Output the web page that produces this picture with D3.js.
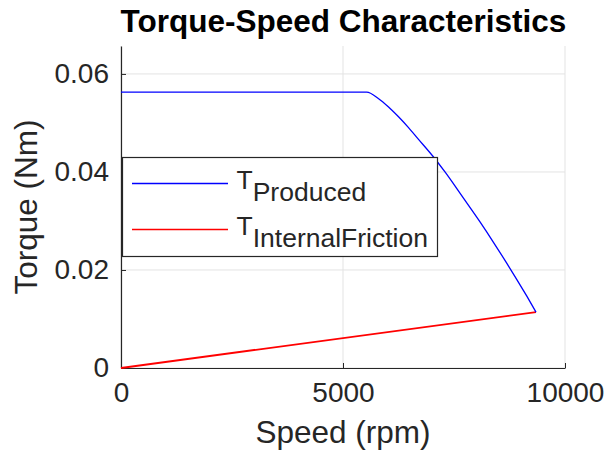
<!DOCTYPE html>
<html><head><meta charset="utf-8">
<script src="https://cdn.jsdelivr.net/npm/d3@7/dist/d3.min.js"></script>
<style>body{margin:0;background:#fff;} svg{display:block;}</style>
</head><body>
<svg id="c" width="608" height="455"></svg>
<script>
const speedProduced = [0, 1000, 2000, 3000, 4000, 5000, 5534, 5795, 6020, 6245, 6471, 6696, 7034, 7297, 7709, 8086, 8385, 8687, 8912, 9137, 9347];
const torqueProduced = [0.0563, 0.0563, 0.0563, 0.0563, 0.0563, 0.0563, 0.0563, 0.0550, 0.0533, 0.0513, 0.0491, 0.0467, 0.0431, 0.0400, 0.0347, 0.0298, 0.0257, 0.0214, 0.0181, 0.0147, 0.0114];
const speedFriction = [0, 9347];
const torqueFriction = [0, 0.0114];
const xTicks = [0, 5000, 10000];
const yTicks = [0, 0.02, 0.04, 0.06];
const legendLabels = [["T", "Produced"], ["T", "InternalFriction"]];
const seriesColors = ["#0000ff", "#ff0000"];

const svg = d3.select("#c");
const L = 121, R = 565, T = 46, B = 368;
const x = d3.scaleLinear().domain([0, 10000]).range([L, R]);
const y = d3.scaleLinear().domain([0, 0.0657]).range([B, T]);
const ink = "#262626";
const font = "'Liberation Sans', Arial, Helvetica, sans-serif";

// grid
svg.append("g").selectAll("line").data(xTicks).join("line")
  .attr("x1", d => x(d)).attr("x2", d => x(d)).attr("y1", T).attr("y2", B)
  .attr("stroke", "#e3e3e3").attr("stroke-width", 1);
svg.append("g").selectAll("line").data(yTicks).join("line")
  .attr("x1", L).attr("x2", R).attr("y1", d => y(d)).attr("y2", d => y(d))
  .attr("stroke", "#e3e3e3").attr("stroke-width", 1);

// axes
const xAxis = d3.axisBottom(x).tickValues(xTicks).tickSizeInner(-5).tickSizeOuter(0).tickPadding(14).tickFormat(d3.format("d"));
const gx = svg.append("g").attr("transform", `translate(0,${B})`).call(xAxis);
const yAxis = d3.axisLeft(y).tickValues(yTicks).tickSizeInner(-5).tickSizeOuter(0).tickPadding(12).tickFormat(d => d === 0 ? "0" : d3.format(".2f")(d));
const gy = svg.append("g").attr("transform", `translate(${L},0)`).call(yAxis);
[gx, gy].forEach(g => {
  g.select(".domain").attr("stroke", ink).attr("stroke-width", 1.2);
  g.selectAll(".tick line").attr("stroke", ink);
  g.selectAll(".tick text").attr("fill", ink).style("font-family", font).style("font-size", "28px");
});
gx.selectAll(".tick text").attr("dy", "0.71em");

// lines
const line = d3.line().x(d => x(d[0])).y(d => y(d[1])).curve(d3.curveMonotoneX);
svg.append("path").datum(speedFriction.map((s, i) => [s, torqueFriction[i]]))
  .attr("d", line).attr("fill", "none").attr("stroke", seriesColors[1]).attr("stroke-width", 1.9);
svg.append("path").datum(speedProduced.map((s, i) => [s, torqueProduced[i]]))
  .attr("d", line).attr("fill", "none").attr("stroke", seriesColors[0]).attr("stroke-width", 1.3);

// title and labels
svg.append("text").attr("x", (L + R) / 2 + 0.5).attr("y", 32).attr("text-anchor", "middle")
  .style("font-family", font).style("font-size", "31.5px").style("font-weight", "bold").attr("fill", "#000")
  .text("Torque-Speed Characteristics");
svg.append("text").attr("x", (L + R) / 2).attr("y", 443).attr("text-anchor", "middle")
  .style("font-family", font).style("font-size", "31.5px").attr("fill", ink).text("Speed (rpm)");
svg.append("text").attr("transform", "translate(37,207) rotate(-90)").attr("text-anchor", "middle")
  .style("font-family", font).style("font-size", "31.5px").attr("fill", ink).text("Torque (Nm)");

// legend
const lg = svg.append("g");
lg.append("rect").attr("x", 122.5).attr("y", 157.5).attr("width", 315).attr("height", 99)
  .attr("fill", "#fff").attr("stroke", ink).attr("stroke-width", 1.2);
const rowY = [183.5, 229.5];
legendLabels.forEach((lab, i) => {
  lg.append("line").attr("x1", 132).attr("x2", 228).attr("y1", rowY[i]).attr("y2", rowY[i])
    .attr("stroke", seriesColors[i]).attr("stroke-width", 1.4);
  const t = lg.append("text").attr("x", 236.5).attr("y", rowY[i] + 5)
    .style("font-family", font).style("font-size", "26.5px").attr("fill", ink);
  t.append("tspan").text(lab[0]);
  t.append("tspan").attr("dy", 12).text(lab[1]);
});
</script>
</body></html>
